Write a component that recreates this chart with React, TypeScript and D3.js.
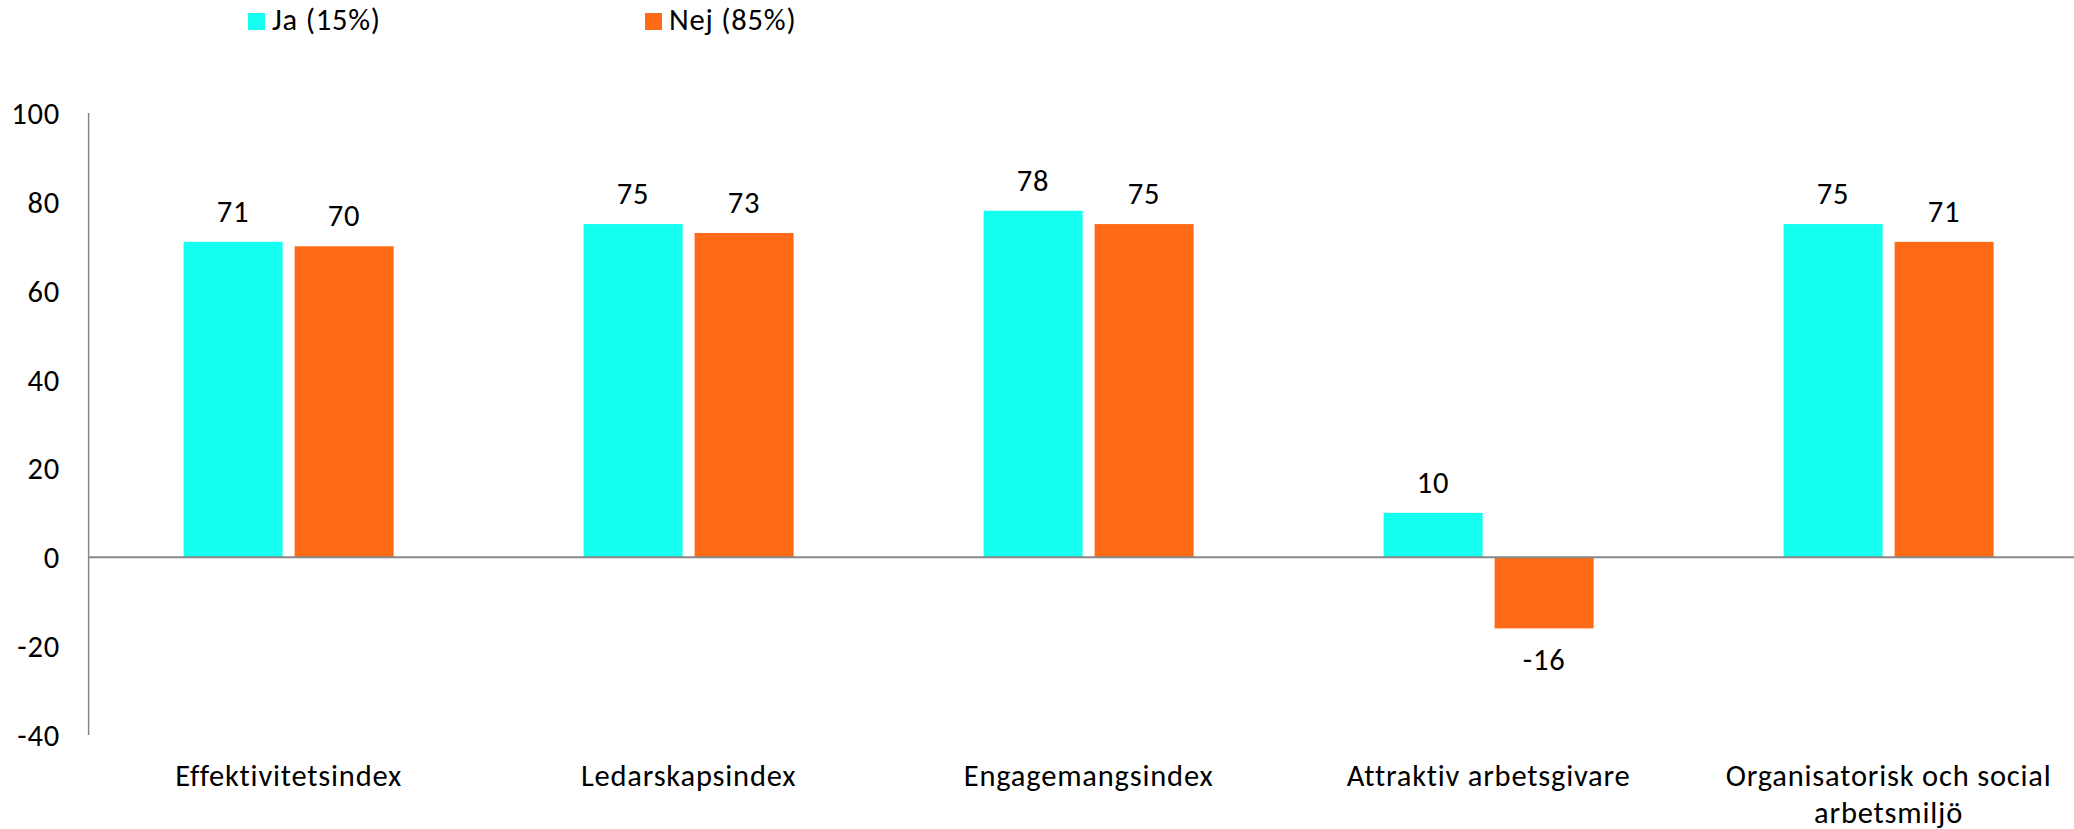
import React from "react"
import * as d3 from "d3"

// chart data
const categories = [
  "Effektivitetsindex",
  "Ledarskapsindex",
  "Engagemangsindex",
  "Attraktiv arbetsgivare",
  "Organisatorisk och social arbetsmiljö",
]
// category labels split into lines the way the original wraps them
const categoryLines = [
  ["Effektivitetsindex"],
  ["Ledarskapsindex"],
  ["Engagemangsindex"],
  ["Attraktiv arbetsgivare"],
  ["Organisatorisk och social", "arbetsmiljö"],
]
const seriesNames = ["Ja (15%)", "Nej (85%)"]
const jaValues = [71, 75, 78, 10, 75]
const nejValues = [70, 73, 75, -16, 71]
const yTicks = [-40, -20, 0, 20, 40, 60, 80, 100]

const colors = ["#14FFF0", "#FF6A17"]
const font = "Carlito, Lato, sans-serif"
const fs = 30.5
const ls = 0.8 // a little tracking so Lato gets Calibri's width

export default function App() {
  const width = 2074,
    height = 829
  const left = 88.6 // y axis position

  const x0 = d3
    .scaleBand()
    .domain(categories)
    .range([left, left + 400 * categories.length])

  // bars inside each group
  const x1 = d3
    .scaleBand()
    .domain(seriesNames)
    .range([95, 305])
    .paddingInner(12 / 111)

  const y = d3.scaleLinear().domain([-40, 100]).range([735, 113])

  const series = [jaValues, nejValues]

  return (
    <svg
      width={width}
      height={height}
      style={{ position: "absolute", left: 0, top: 0, background: "#fff" }}
      fontFamily={font}
      fontSize={fs}
      letterSpacing={ls}
    >
      {/* legend */}
      {seriesNames.map((name, i) => (
        <g key={name} transform={"translate(" + [248 + i * 397, 0] + ")"}>
          <rect x={0} y={13} width={17} height={17} fill={colors[i]} />
          <text x={24} y={30} fill="#000">
            {name}
          </text>
        </g>
      ))}

      {/* y axis labels */}
      {yTicks.map((t) => (
        <text key={t} x={60} y={y(t)} dy="0.36em" textAnchor="end" fill="#000">
          {t}
        </text>
      ))}

      {/* bars */}
      {categories.map((c, ci) => (
        <g key={c} transform={"translate(" + [x0(c), 0] + ")"}>
          {series.map((vals, si) => {
            const v = vals[ci]
            const bx = x1(seriesNames[si])
            const top = Math.min(y(v), y(0))
            const h = Math.abs(y(v) - y(0))
            return (
              <g key={si}>
                <rect x={bx} y={top} width={x1.bandwidth()} height={h} fill={colors[si]} />
                <text
                  x={bx + x1.bandwidth() / 2}
                  y={v >= 0 ? y(v) - 20 : y(v) + 42}
                  textAnchor="middle"
                  fill="#000"
                >
                  {v}
                </text>
              </g>
            )
          })}
        </g>
      ))}

      {/* axis lines */}
      <line x1={left} x2={width} y1={y(0)} y2={y(0)} stroke="#878787" strokeWidth={2} />
      <line x1={left} x2={left} y1={y(100)} y2={y(-40)} stroke="#878787" strokeWidth={1.5} />

      {/* category labels */}
      {categories.map((c, ci) =>
        categoryLines[ci].map((line, li) => (
          <text
            key={c + li}
            x={x0(c) + x0.bandwidth() / 2}
            y={786 + li * 37}
            textAnchor="middle"
            fill="#000"
          >
            {line}
          </text>
        ))
      )}
    </svg>
  )
}
